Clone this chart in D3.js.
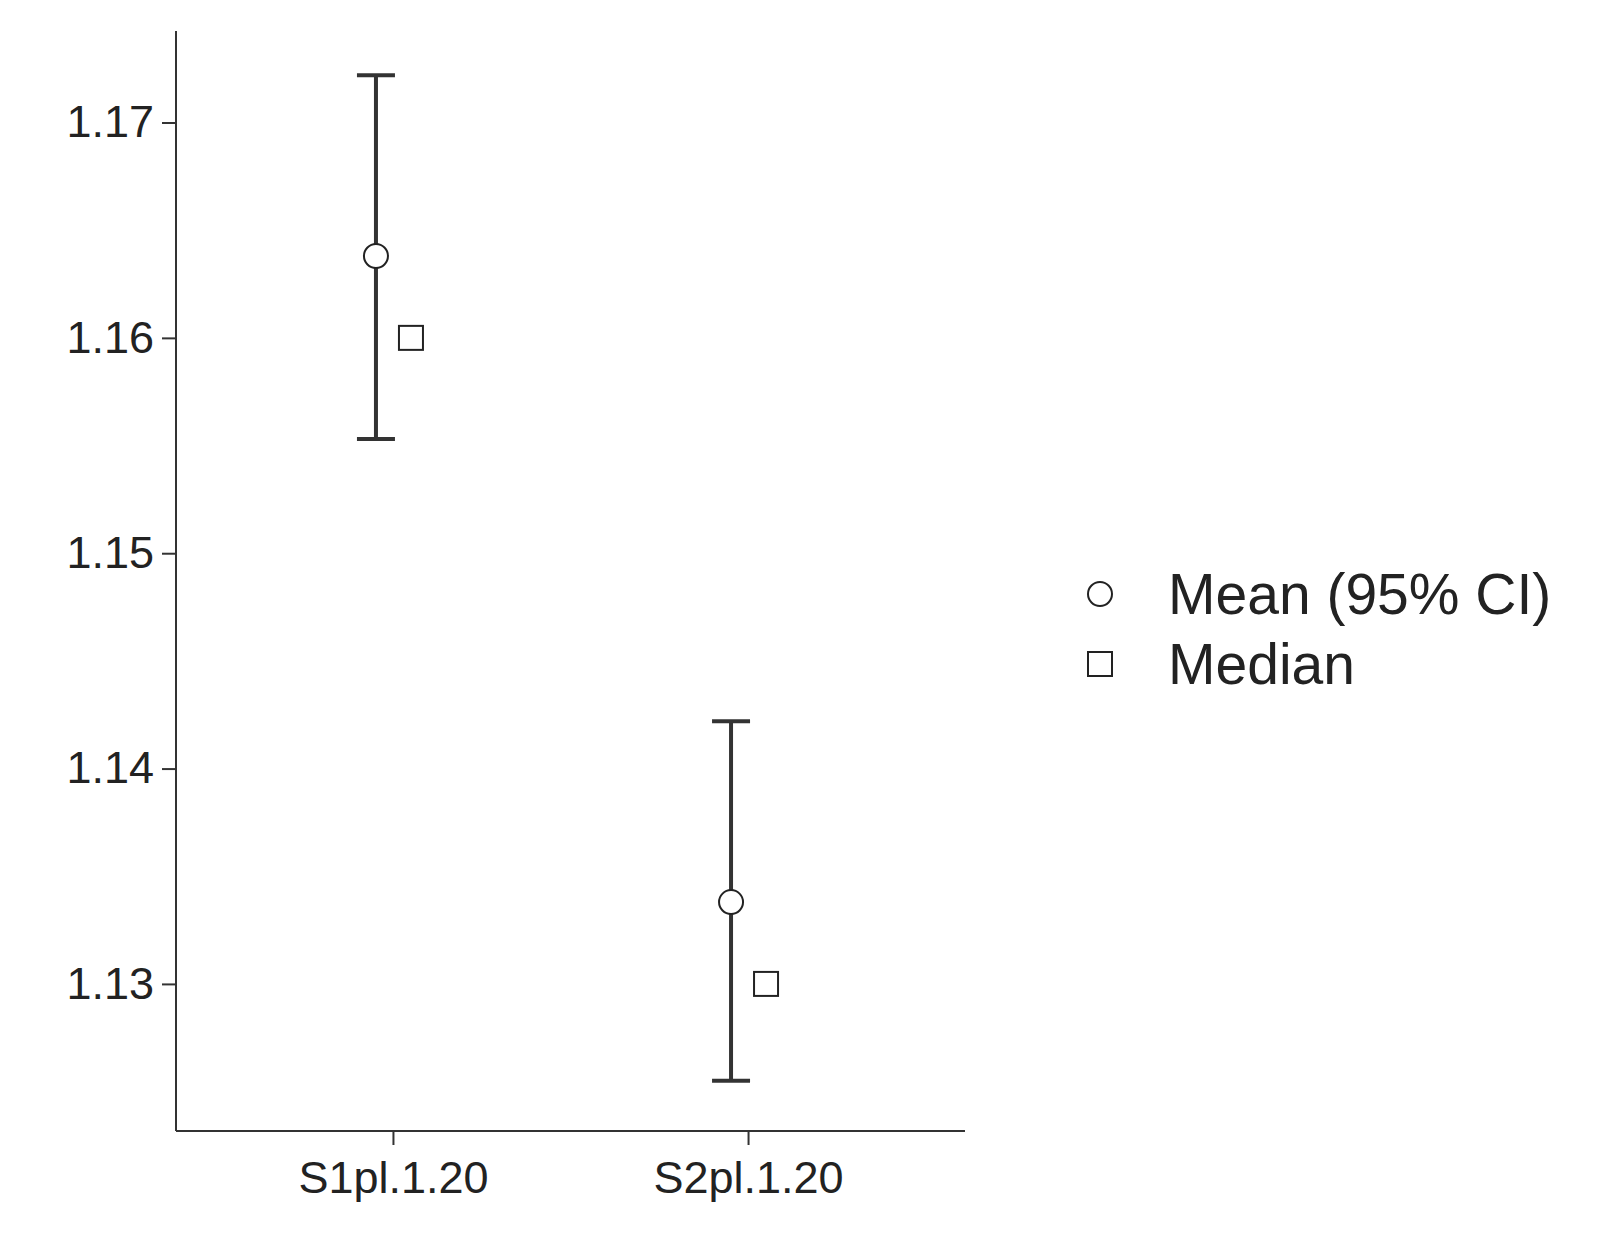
<!DOCTYPE html>
<html><head><meta charset="utf-8">
<script src="https://cdn.jsdelivr.net/npm/d3@7"></script>
<style>body{margin:0;background:#fff}</style></head>
<body><script>
var groups = ["S1pl.1.20", "S2pl.1.20"];
var means = [1.1638, 1.1338];
var lower = [1.1553, 1.1255];
var upper = [1.1722, 1.1422];
var medians = [1.160, 1.130];
var yTicks = [1.13, 1.14, 1.15, 1.16, 1.17];

var svg = d3.select("body").append("svg").attr("width", 1619).attr("height", 1251);
var x = d3.scalePoint().domain(groups).range([176, 965]).padding(0.611);
var y = d3.scaleLinear().domain([1.12317, 1.17425]).range([1131, 31]);
var ink = "#333";

var ya = svg.append("g").attr("transform", "translate(176,0)")
	.call(d3.axisLeft(y).tickValues(yTicks).tickSize(14).tickPadding(8).tickFormat(d3.format(".2f")));
var xa = svg.append("g").attr("transform", "translate(0,1131)")
	.call(d3.axisBottom(x).tickSize(14).tickPadding(16));
[ya, xa].forEach(function(a){
	a.select(".domain").attr("stroke", ink).attr("stroke-width", 2);
	a.selectAll(".tick line").attr("stroke", ink).attr("stroke-width", 2);
	a.selectAll("text").attr("font-family", "Arial, Liberation Sans, sans-serif").attr("font-size", 45).attr("fill", "#222");
});
ya.select(".domain").attr("d", "M0,31V1131");
xa.select(".domain").attr("d", "M176,0H965");

var off = -17, mOff = 18, cap = 19;
var g = svg.append("g");
groups.forEach(function(k, i){
	var cx = x(k) + off;
	g.append("line").attr("x1", cx).attr("x2", cx).attr("y1", y(lower[i])).attr("y2", y(upper[i]))
		.attr("stroke", ink).attr("stroke-width", 4);
	[lower[i], upper[i]].forEach(function(v){
		g.append("line").attr("x1", cx - cap).attr("x2", cx + cap).attr("y1", y(v)).attr("y2", y(v))
			.attr("stroke", ink).attr("stroke-width", 4);
	});
	g.append("circle").attr("cx", cx).attr("cy", y(means[i])).attr("r", 12)
		.attr("fill", "#fff").attr("stroke", "#222").attr("stroke-width", 2);
	g.append("rect").attr("x", x(k) + mOff - 12).attr("y", y(medians[i]) - 12).attr("width", 24).attr("height", 24)
		.attr("fill", "#fff").attr("stroke", "#222").attr("stroke-width", 2);
});

var leg = svg.append("g");
leg.append("circle").attr("cx", 1100).attr("cy", 594).attr("r", 12).attr("fill", "#fff").attr("stroke", "#222").attr("stroke-width", 2);
leg.append("rect").attr("x", 1088).attr("y", 652).attr("width", 24).attr("height", 24).attr("fill", "#fff").attr("stroke", "#222").attr("stroke-width", 2);
[["Mean (95% CI)", 594], ["Median", 664]].forEach(function(t){
	leg.append("text").attr("x", 1168).attr("y", t[1]).attr("dy", "0.35em")
		.attr("font-family", "Arial, Liberation Sans, sans-serif").attr("font-size", 57).attr("fill", "#222").text(t[0]);
});
</script></body></html>
